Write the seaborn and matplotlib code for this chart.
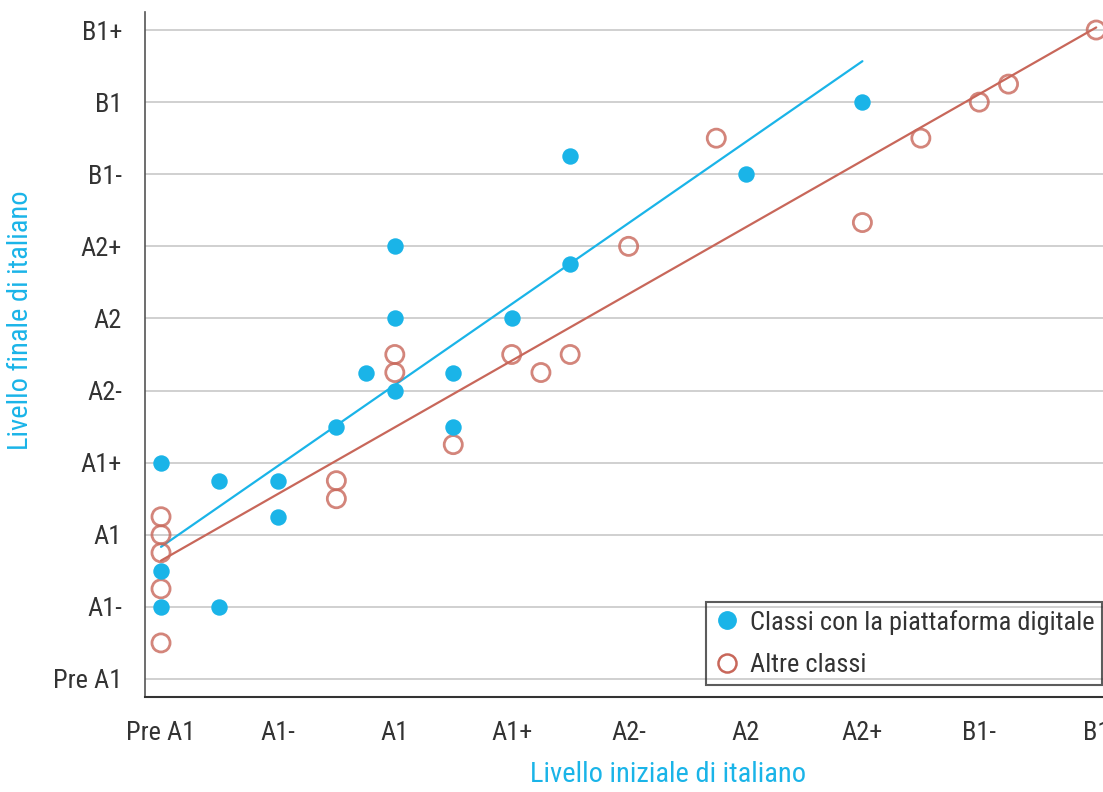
import numpy as np
import pandas as pd
import matplotlib
matplotlib.use("Agg")
import matplotlib.pyplot as plt
from matplotlib.lines import Line2D
from matplotlib import font_manager
import seaborn as sns

# Livelli (indice numerico = posizione sull'asse)
livelli_x = ["Pre A1", "A1-", "A1", "A1+", "A2-", "A2", "A2+", "B1-", "B1"]
livelli_y = ["Pre A1", "A1-", "A1", "A1+", "A2-", "A2", "A2+", "B1-", "B1", "B1+"]

# Classi con la piattaforma digitale
x_dig = [0, 0, 0, 0.5, 0.5, 1.0, 1.0, 1.5, 1.75, 2, 2, 2, 2.5, 2.5, 3, 3.5, 3.5, 5, 6]
y_dig = [3.0, 1.5, 1.0, 2.75, 1.0, 2.75, 2.25, 3.5, 4.25, 6.0, 5.0, 4.0, 4.25, 3.5, 5.0, 7.25, 5.75, 7.0, 8.0]

# Altre classi
x_alt = [0, 0, 0, 0, 0, 1.5, 1.5, 2, 2, 2.5, 3, 3.25, 3.5, 4, 4.75, 6, 6.5, 7, 7.25, 8]
y_alt = [2.25, 2.0, 1.75, 1.25, 0.5, 2.75, 2.5, 4.5, 4.25, 3.25, 4.5, 4.25, 4.5, 6.0, 7.5, 6.33, 7.5, 8.0, 8.25, 9.0]

blu = "#1ab4e8"
rosso = "#c8675a"
grigio_testo = "#333333"

df_dig = pd.DataFrame({"iniziale": x_dig, "finale": y_dig})
df_alt = pd.DataFrame({"iniziale": x_alt, "finale": y_alt})

sns.set_style("white")

# cerca un carattere stretto, se c'e'
condensati = [f for f in font_manager.fontManager.ttflist
              if f.stretch in ("condensed", "semi-condensed", "extra-condensed") or "Condensed" in f.name or "Narrow" in f.name]
if condensati:
    famiglia = condensati[0].name
    for f in condensati:
        if "Roboto" in f.name or "Liberation" in f.name:
            famiglia = f.name
            break
    stretch = [f.stretch for f in condensati if f.name == famiglia][0]
else:
    famiglia, stretch = "Roboto", "normal"
plt.rcParams["font.family"] = [famiglia, "DejaVu Sans"]
plt.rcParams["font.stretch"] = stretch

fig = plt.figure(figsize=(11.03, 7.92), dpi=100)
larg = 1191 - 145
ax = fig.add_axes([145 / 1103, (792 - 697) / 792, larg / 1103, (697 - 12) / 792])

# Griglia orizzontale
ax.set_axisbelow(True)
ax.yaxis.grid(True, color="#c8c8c8", linewidth=1.2)
ax.xaxis.grid(False)

sns.regplot(data=df_alt, x="iniziale", y="finale", ax=ax, ci=None,
            scatter_kws={"s": 170, "facecolors": "none", "edgecolors": rosso, "linewidths": 2.0, "zorder": 3},
            line_kws={"color": rosso, "linewidth": 1.6, "zorder": 2})
sns.regplot(data=df_dig, x="iniziale", y="finale", ax=ax, ci=None, color=blu,
            scatter_kws={"s": 140, "alpha": 1, "linewidths": 0, "zorder": 4},
            line_kws={"color": blu, "linewidth": 1.6, "zorder": 2})

ax.set_xlim(-0.137, (1191 - 161) / 116.9)
ax.set_ylim(-0.25, 9.25)

ax.set_xticks(range(len(livelli_x)))
ax.set_xticklabels(livelli_x)
ax.set_yticks(range(len(livelli_y)))
ax.set_yticklabels(livelli_y)

ax.tick_params(axis="x", length=0, pad=17, labelsize=19, labelcolor=grigio_testo)
ax.tick_params(axis="y", length=11, width=1.2, color="#c8c8c8", pad=5.5, labelsize=19, labelcolor=grigio_testo)

for lato in ["top", "right"]:
    ax.spines[lato].set_visible(False)
ax.spines["left"].set_color("#555555")
ax.spines["left"].set_linewidth(1.2)
ax.spines["bottom"].set_color("#333333")
ax.spines["bottom"].set_linewidth(1.5)

ax.set_xlabel("Livello iniziale di italiano", color=blu, fontsize=20.5, labelpad=12)
ax.set_ylabel("Livello finale di italiano", color=blu, fontsize=20.5)
ax.yaxis.set_label_coords((34 - 145) / larg, (697 - 320) / (697 - 12))

maniglie = [
    Line2D([], [], marker="o", linestyle="none", markersize=12.5, markerfacecolor=blu, markeredgecolor=blu),
    Line2D([], [], marker="o", linestyle="none", markersize=13, markerfacecolor="none",
           markeredgecolor=rosso, markeredgewidth=1.8),
]
leg = ax.legend(maniglie, ["Classi con la piattaforma digitale", "Altre classi"],
                loc="lower left", bbox_to_anchor=((706 - 145) / larg, (697 - 685) / 685),
                frameon=True, fancybox=False, fontsize=19, handletextpad=0.35,
                borderpad=0.3, labelspacing=0.7, handlelength=1.0, borderaxespad=0)
leg.get_frame().set_edgecolor("#333333")
leg.get_frame().set_linewidth(1.5)
leg.get_frame().set_facecolor("none")
for t in leg.get_texts():
    t.set_color(grigio_testo)

fig.savefig("out.png", dpi=100)
